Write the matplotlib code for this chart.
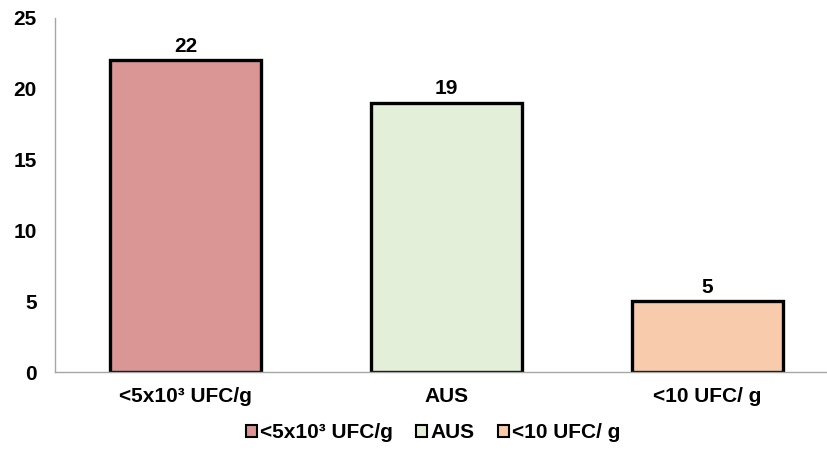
import matplotlib.pyplot as plt
from matplotlib.patches import Patch

categories = ['<5x10³ UFC/g', 'AUS', '<10 UFC/ g']
counts = [22, 19, 5]
colors = ['#D99694', '#E3EFD9', '#F8CBAD']

plt.rcParams['font.family'] = ['Liberation Sans', 'DejaVu Sans']
plt.rcParams['font.weight'] = 'bold'
plt.rcParams['font.size'] = 15

fig = plt.figure(figsize=(8.27, 4.5), dpi=100)
ax = fig.add_axes([55 / 827, 78 / 450, 783 / 827, 354.5 / 450])

x = range(len(categories))
bars = ax.bar(x, counts, width=0.578, color=colors, edgecolor='black', linewidth=2.4)
for b, v in zip(bars, counts):
    ax.annotate(str(v), (b.get_x() + b.get_width() / 2, v), xytext=(0, 3),
                textcoords='offset points', ha='center', va='bottom',
                fontsize=15, fontweight='bold')

ax.set_xlim(-0.5, 2.5)
ax.set_ylim(0, 25)
ax.set_yticks([0, 5, 10, 15, 20, 25])
ax.set_xticks(list(x))
ax.set_xticklabels(categories)
ax.tick_params(axis='both', length=0, labelsize=15)
ax.tick_params(axis='y', pad=13)
ax.tick_params(axis='x', pad=11)
for s in ['top', 'right']:
    ax.spines[s].set_visible(False)
for s in ['left', 'bottom']:
    ax.spines[s].set_color('#A6A6A6')
    ax.spines[s].set_linewidth(1.0)

handles = [Patch(facecolor=c, edgecolor='black', linewidth=1.5) for c in colors]
fig.legend(handles, categories, loc='center', bbox_to_anchor=(433 / 827, 1 - 433 / 450),
           ncol=3, frameon=False, fontsize=15, handlelength=0.55, handleheight=0.55,
           handletextpad=0.15, columnspacing=1.1)

fig.savefig('out.png', dpi=100)
